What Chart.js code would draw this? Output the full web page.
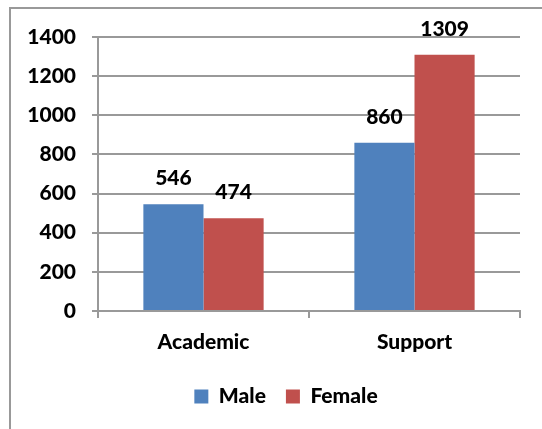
<!DOCTYPE html>
<html>
<head>
<meta charset="utf-8">
<script src="https://cdn.jsdelivr.net/npm/chart.js@4"></script>
<style>
  html, body { margin: 0; padding: 0; background: #fff; overflow: hidden; }
  #frame {
    position: absolute; left: 9px; top: 7px; width: 600px; height: 500px;
    border-left: 2px solid #999; border-top: 2px solid #999;
  }
  #wrap { position: absolute; left: 0; top: 0; width: 542px; height: 429px; }
</style>
</head>
<body>
<div id="frame"></div>
<div id="wrap"><canvas id="barChart" width="542" height="429"></canvas></div>
<script>
// ---data---
var categories = ["Academic", "Support"];
var maleValues = [546, 860];
var femaleValues = [474, 1309];
var yTicks = [0, 200, 400, 600, 800, 1000, 1200, 1400];

var labelFont = { family: "Lato", size: 21, weight: "900" };

// ---value labels above bars + legend nudge---
var valueLabels = {
  id: "valueLabels",
  afterLayout: function (chart) {
    // legend sits a bit right of the canvas centre in the original
    chart.legend.left += 26;
    chart.legend.right += 26;
  },
  afterDatasetsDraw: function (chart) {
    var ctx = chart.ctx;
    ctx.save();
    ctx.font = "900 21px Lato";
    ctx.fillStyle = "#000";
    ctx.textAlign = "center";
    ctx.textBaseline = "bottom";
    chart.data.datasets.forEach(function (ds, i) {
      chart.getDatasetMeta(i).data.forEach(function (bar, j) {
        ctx.fillText(ds.data[j], bar.x, bar.y - 15);
      });
    });
    ctx.restore();
  },
};

var ctxB = document.getElementById("barChart").getContext("2d");
var myBarChart = new Chart(ctxB, {
  type: "bar",
  data: {
    labels: categories,
    datasets: [
      {
        label: "Male",
        data: maleValues,
        backgroundColor: "#4F81BD",
      },
      {
        label: "Female",
        data: femaleValues,
        backgroundColor: "#C0504D",
      },
    ],
  },
  options: {
    responsive: false,
    animation: false,
    layout: { padding: { top: 37, right: 22, bottom: 12, left: 0 } },
    datasets: {
      bar: { categoryPercentage: 0.57, barPercentage: 1.0 },
    },
    plugins: {
      tooltip: { enabled: false },
      legend: {
        position: "bottom",
        labels: {
          color: "#000",
          font: labelFont,
          boxWidth: 14,
          boxHeight: 14,
          padding: 20,
        },
      },
    },
    scales: {
      x: {
        grid: {
          offset: true,
          drawOnChartArea: false,
          drawTicks: true,
          tickLength: 7,
          color: "#999",
          lineWidth: 2,
        },
        border: { color: "#999", width: 2 },
        ticks: { color: "#000", font: labelFont, padding: 12 },
        afterFit: function (scale) {
          scale.height = 55;
        },
      },
      y: {
        min: 0,
        max: 1400,
        afterBuildTicks: function (scale) {
          scale.ticks = yTicks.map(function (v) {
            return { value: v };
          });
        },
        grid: { color: "#999", lineWidth: 2, tickLength: 6 },
        border: { color: "#999", width: 2 },
        ticks: {
          color: "#000",
          font: labelFont,
          padding: 16,
          callback: function (v) {
            return String(v);
          },
        },
        afterFit: function (scale) {
          scale.width = 98;
        },
      },
    },
  },
  plugins: [valueLabels],
});
</script>
</body>
</html>
